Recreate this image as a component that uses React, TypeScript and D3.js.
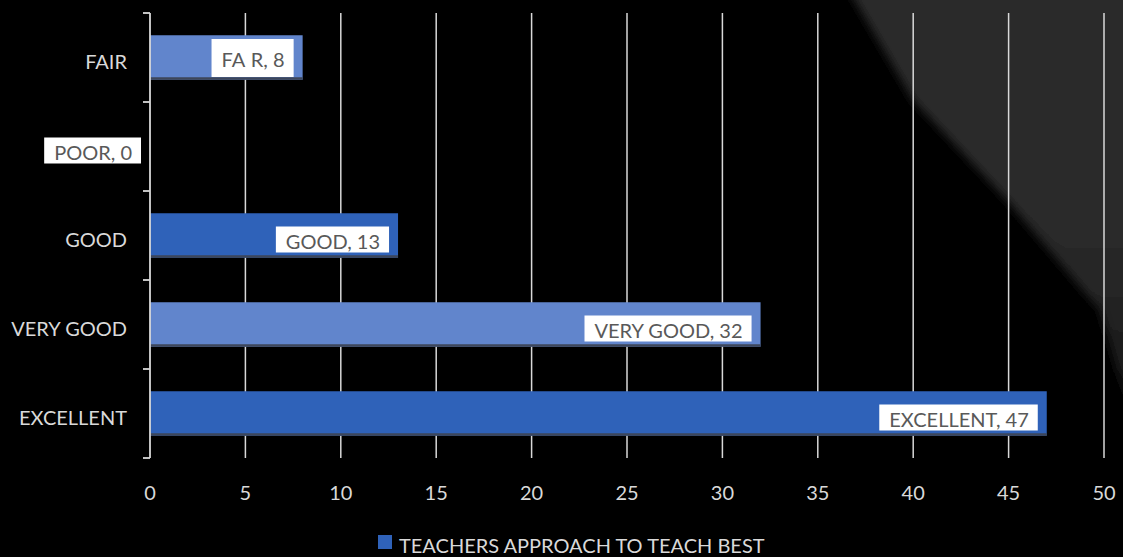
import React, { useEffect, useRef } from "react";
import * as d3 from "d3";

const categories = ["FAIR", "POOR", "GOOD", "VERY GOOD", "EXCELLENT"];
const values = [8, 0, 13, 32, 47];
const barColors = ["#6185cc", "#6185cc", "#2f62b9", "#6185cc", "#2f62b9"];
const xTicks = [0, 5, 10, 15, 20, 25, 30, 35, 40, 45, 50];
const seriesName = "TEACHERS APPROACH TO TEACH BEST";

const W = 1123;
const H = 557;
const FONT = "Lato, 'Open Sans', sans-serif";
const FS = 20;

export default function App() {
  const ref = useRef<SVGSVGElement | null>(null);

  useEffect(() => {
    const svg = d3.select(ref.current);
    svg.selectAll("*").remove();

    const x = d3.scaleLinear().domain([0, 50]).range([150, 1104]);
    const y = d3
      .scaleBand<string>()
      .domain(categories)
      .range([13, 458])
      .paddingInner(0.5)
      .paddingOuter(0.25);

    // background
    svg.append("rect").attr("width", W).attr("height", H).attr("fill", "#000");
    const defs = svg.append("defs");
    const f = defs.append("filter").attr("id", "blur").attr("x", "-20%").attr("y", "-20%").attr("width", "140%").attr("height", "140%");
    f.append("feGaussianBlur").attr("stdDeviation", 5);
    const lg = defs
      .append("linearGradient")
      .attr("id", "bgGrad")
      .attr("x1", "0")
      .attr("y1", "0")
      .attr("x2", "0")
      .attr("y2", "1");
    lg.append("stop").attr("offset", "0%").attr("stop-color", "#2c2c2c");
    lg.append("stop").attr("offset", "65%").attr("stop-color", "#282828");
    lg.append("stop").attr("offset", "100%").attr("stop-color", "#111111");
    svg
      .append("path")
      .attr("d", "M843,-20 L1140,-20 L1140,430 L1120,380 L1100,310 L1007,200 L913,100 Z")
      .attr("fill", "url(#bgGrad)")
      .attr("filter", "url(#blur)");

    const top = y.range()[0];
    const bottom = y.range()[1];

    // gridlines
    svg
      .append("g")
      .selectAll("line")
      .data(xTicks.slice(1))
      .join("line")
      .attr("x1", (d) => x(d))
      .attr("x2", (d) => x(d))
      .attr("y1", top)
      .attr("y2", bottom)
      .attr("stroke", "#d9d9d9")
      .attr("stroke-width", 1.5);

    // bars
    const bh = y.bandwidth();
    const bars = svg.append("g");
    categories.forEach((c, i) => {
      const v = values[i];
      if (v <= 0) return;
      const y0 = y(c)!;
      bars
        .append("rect")
        .attr("x", x(0))
        .attr("y", y0)
        .attr("width", x(v) - x(0))
        .attr("height", bh)
        .attr("fill", barColors[i]);
      bars
        .append("rect")
        .attr("x", x(0))
        .attr("y", y0 + bh - 2.5)
        .attr("width", x(v) - x(0))
        .attr("height", 2.5)
        .attr("fill", "#3d465a");
    });

    // axis line and ticks
    const ax = svg.append("g").attr("stroke", "#d9d9d9").attr("stroke-width", 1.8);
    ax.append("line").attr("x1", x(0)).attr("x2", x(0)).attr("y1", top).attr("y2", bottom);
    const tickYs = d3.range(categories.length + 1).map((i) => top + (i * (bottom - top)) / categories.length);
    ax
      .selectAll("line.tk")
      .data(tickYs)
      .join("line")
      .attr("class", "tk")
      .attr("x1", x(0) - 7)
      .attr("x2", x(0))
      .attr("y1", (d) => d)
      .attr("y2", (d) => d);

    // category labels
    svg
      .append("g")
      .selectAll("text")
      .data(categories)
      .join("text")
      .attr("x", 127)
      .attr("y", (d) => y(d)! + bh / 2 + 3)
      .attr("text-anchor", "end")
      .attr("dominant-baseline", "central")
      .attr("font-family", FONT)
      .attr("font-size", FS)
      .attr("fill", "#d9d9d9")
      .text((d) => d);

    // x tick labels
    svg
      .append("g")
      .selectAll("text")
      .data(xTicks)
      .join("text")
      .attr("x", (d) => x(d))
      .attr("y", 500)
      .attr("text-anchor", "middle")
      .attr("font-family", FONT)
      .attr("font-size", FS)
      .attr("fill", "#d9d9d9")
      .text((d) => String(d));

    // data labels
    const dl = svg.append("g");
    categories.forEach((c, i) => {
      const v = values[i];
      const right = x(v) - 9;
      const cy = y(c)! + bh / 2 + (i === 0 ? 0.5 : 4);
      const boxH = i === 0 ? 38 : 26;
      const g = dl.append("g");
      const rect = g.append("rect").attr("fill", "#ffffff");
      const t = g
        .append("text")
        .attr("x", right - 9)
        .attr("y", cy + 1)
        .attr("text-anchor", "end")
        .attr("dominant-baseline", "central")
        .attr("font-family", FONT)
        .attr("font-size", FS)
        .attr("fill", "#595959");
      if (c === "FAIR") {
        t.append("tspan").text("FA");
        t.append("tspan").attr("fill", "#ffffff").text("I");
        t.append("tspan").text(`R, ${v}`);
      } else {
        t.text(`${c}, ${v}`);
      }
      const tw = (t.node() as SVGTextElement).getComputedTextLength();
      rect
        .attr("x", right - tw - 19)
        .attr("y", cy - boxH / 2)
        .attr("width", tw + 19)
        .attr("height", boxH);
    });

    // legend
    const lg2 = svg.append("g");
    lg2.append("rect").attr("x", 378).attr("y", 535).attr("width", 14).attr("height", 14).attr("fill", "#2f62b9");
    lg2
      .append("text")
      .attr("x", 399)
      .attr("y", 553)
      .attr("font-family", FONT)
      .attr("font-size", FS)
      .attr("fill", "#d9d9d9")
      .text(seriesName);
  }, []);

  return (
    <div style={{ position: "absolute", left: 0, top: 0, width: W, height: H, overflow: "hidden" }}>
      <svg ref={ref} width={W} height={H} style={{ display: "block" }} />
    </div>
  );
}
